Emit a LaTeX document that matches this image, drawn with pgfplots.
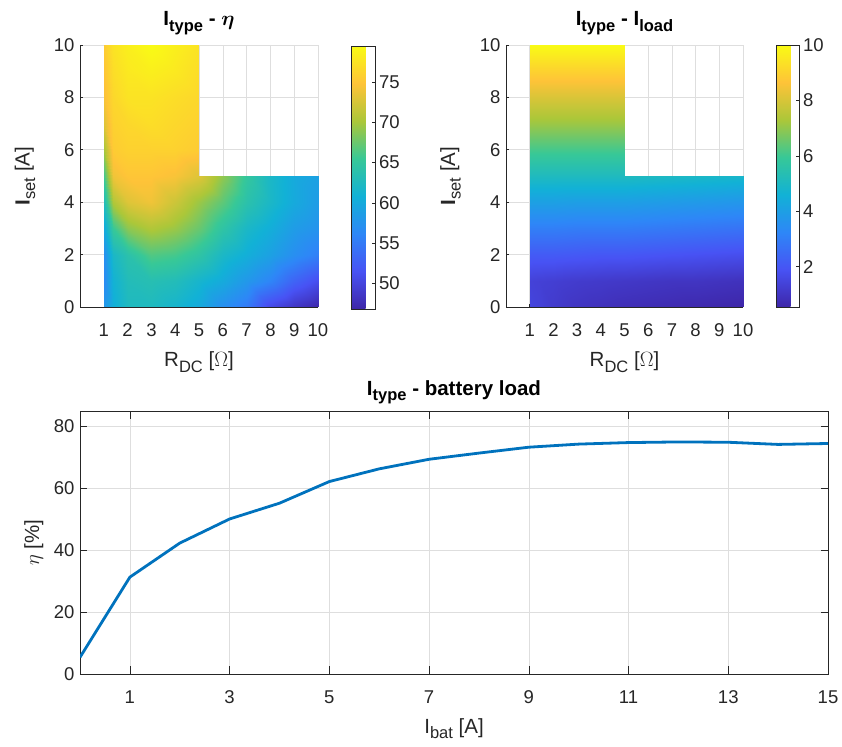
\documentclass[border=0pt]{standalone}
\usepackage{pgfplots}
\pgfplotsset{compat=1.18}
\usepackage{pgfplotstable}
\usepackage{fontspec}
\setmainfont{Liberation Sans}
\usepackage{bm}
\definecolor{mblue}{rgb}{0,0.447,0.741}
\definecolor{axgray}{rgb}{0.15,0.15,0.15}
\newcommand{\lsub}[1]{\raisebox{-5.5bp}{\fontsize{16.5bp}{17bp}\selectfont #1}}
\newcommand{\tickfont}{\fontsize{18.5bp}{20bp}\selectfont}
\newcommand{\labfont}{\fontsize{20.5bp}{24bp}\selectfont}

\pgfplotsset{
  colormap={parula}{rgb=(0.2422,0.1504,0.6603) rgb=(0.2810,0.3228,0.9579)
    rgb=(0.1786,0.5289,0.9682) rgb=(0.0689,0.6948,0.8394) rgb=(0.2161,0.7843,0.5923)
    rgb=(0.6720,0.7793,0.2227) rgb=(0.9970,0.7659,0.2199) rgb=(0.9769,0.9839,0.0805)},
  every axis title shift=0pt,
  mystyle/.style={
    scale only axis, anchor=south west,
    /pgf/number format/assume math mode=true,
    tick label style={font=\tickfont, text=axgray},
    label style={font=\labfont, text=axgray},
    title style={font=\labfont\bfseries, text=black, at={(0.5,1)}, anchor=base},
    grid=major, grid style={black!13, line width=0.6bp},
    axis line style={axgray, line width=0.6bp},
    tick style={axgray, line width=0.6bp},
    tick align=inside,
  },
  mapstyle/.style={
    mystyle, width=238bp, height=262bp,
    xmin=0, xmax=10, ymin=0, ymax=10,
    xtick={1,...,10}, ytick={0,2,...,10},
    axis x line*=bottom, axis y line*=left,
    major tick length=2.6bp,
    xticklabel style={anchor=base, yshift=-30bp},
    yticklabel style={xshift=-2bp},
    title style={yshift=19bp},
    xlabel style={at={(axis description cs:0.5,0)}, anchor=base, yshift=-60bp},
    ylabel style={at={(axis description cs:-0.212,0.5)}, anchor=base},
    colormap name=parula, colorbar,
  },
  cbstyle/.style={
    at={(parent axis.north east)}, anchor=north west, xshift=25bp,
    scale only axis, width=24bp,
    tick align=inside, major tick length=3.5bp,
    ytick pos=right,
    tick style={axgray, line width=0.6bp},
    axis line style={axgray, line width=0.6bp},
    /pgf/number format/assume math mode=true,
    yticklabel style={font=\tickfont, text=axgray},
  },
}

\pgfplotstableread[row sep=\\]{
x y c\\
1 0 58\\ 1.4 0 60.5\\ 2 0 62.5\\ 3 0 62.5\\ 4 0 61.5\\ 5 0 60\\
1 1 56.5\\ 1.4 1 61\\ 2 1 63\\ 3 1 63.5\\ 4 1 63\\ 5 1 61.5\\
1 2 57\\ 1.4 2 62\\ 2 2 64\\ 3 2 66.5\\ 4 2 66\\ 5 2 64.5\\
1 3 60\\ 1.4 3 65.5\\ 2 3 69\\ 3 3 70.5\\ 4 3 69.5\\ 5 3 67.5\\
1 4 63\\ 1.4 4 70.5\\ 2 4 73\\ 3 4 74\\ 4 4 72\\ 5 4 69.5\\
1 5 66\\ 1.4 5 74\\ 2 5 75\\ 3 5 75\\ 4 5 74.5\\ 5 5 73\\
1 6 70\\ 1.4 6 75.5\\ 2 6 76\\ 3 6 76\\ 4 6 76\\ 5 6 75.5\\
1 7 73\\ 1.4 7 76\\ 2 7 76.5\\ 3 7 77\\ 4 7 76.5\\ 5 7 76\\
1 8 74.5\\ 1.4 8 76.5\\ 2 8 77.5\\ 3 8 77.5\\ 4 8 77\\ 5 8 76.5\\
1 9 75\\ 1.4 9 77\\ 2 9 78\\ 3 9 78.5\\ 4 9 78\\ 5 9 77\\
1 10 75.5\\ 1.4 10 77.5\\ 2 10 78.5\\ 3 10 79.5\\ 4 10 78.5\\ 5 10 77.5\\
}\etaA

\pgfplotstableread[row sep=\\]{
x y c\\
5 0 60\\ 6 0 57\\ 7 0 55\\ 8 0 50.5\\ 9 0 48.5\\ 10 0 47\\
5 1 61.5\\ 6 1 60\\ 7 1 58\\ 8 1 56\\ 9 1 53\\ 10 1 51\\
5 2 64.5\\ 6 2 62\\ 7 2 60.5\\ 8 2 59\\ 9 2 57\\ 10 2 55.5\\
5 3 67.5\\ 6 3 64.5\\ 7 3 62\\ 8 3 60.5\\ 9 3 58.5\\ 10 3 57.5\\
5 4 69.5\\ 6 4 67\\ 7 4 64\\ 8 4 62\\ 9 4 60\\ 10 4 58.5\\
5 5 73\\ 6 5 69\\ 7 5 65\\ 8 5 62\\ 9 5 60\\ 10 5 59\\
}\etaB

\pgfplotstableread[row sep=\\]{
x y c\\
1 0 1.5\\ 1.4 0 1.4\\ 2 0 1.2\\ 3 0 1.0\\ 4 0 0.9\\ 5 0 0.8\\
1 1 1.4\\ 1.4 1 1.35\\ 2 1 1.3\\ 3 1 1.2\\ 4 1 1.15\\ 5 1 1.1\\
1 2 2.1\\ 1.4 2 2.1\\ 2 2 2.1\\ 3 2 2.05\\ 4 2 2.0\\ 5 2 2.0\\
1 3 3.05\\ 1.4 3 3.05\\ 2 3 3.05\\ 3 3 3.0\\ 4 3 3.0\\ 5 3 3.0\\
1 4 4.05\\ 1.4 4 4.05\\ 2 4 4.05\\ 3 4 4.0\\ 4 4 4.0\\ 5 4 4.0\\
1 5 5.1\\ 1.4 5 5.1\\ 2 5 5.1\\ 3 5 5.1\\ 4 5 5.1\\ 5 5 5.1\\
1 6 6.1\\ 1.4 6 6.1\\ 2 6 6.1\\ 3 6 6.1\\ 4 6 6.1\\ 5 6 6.1\\
1 7 7.1\\ 1.4 7 7.1\\ 2 7 7.1\\ 3 7 7.1\\ 4 7 7.1\\ 5 7 7.1\\
1 8 8.05\\ 1.4 8 8.05\\ 2 8 8.05\\ 3 8 8.05\\ 4 8 8.05\\ 5 8 8.05\\
1 9 9.0\\ 1.4 9 9.0\\ 2 9 9.0\\ 3 9 9.0\\ 4 9 9.0\\ 5 9 9.0\\
1 10 10\\ 1.4 10 10\\ 2 10 10\\ 3 10 10\\ 4 10 10\\ 5 10 10\\
}\loadA

\pgfplotstableread[row sep=\\]{
x y c\\
5 0 0.8\\ 6 0 0.75\\ 7 0 0.7\\ 8 0 0.65\\ 9 0 0.6\\ 10 0 0.55\\
5 1 1.1\\ 6 1 1.05\\ 7 1 1.0\\ 8 1 1.0\\ 9 1 0.95\\ 10 1 0.9\\
5 2 2.0\\ 6 2 1.95\\ 7 2 1.9\\ 8 2 1.85\\ 9 2 1.8\\ 10 2 1.75\\
5 3 3.0\\ 6 3 2.95\\ 7 3 2.9\\ 8 3 2.85\\ 9 3 2.8\\ 10 3 2.75\\
5 4 4.0\\ 6 4 3.95\\ 7 4 3.9\\ 8 4 3.85\\ 9 4 3.8\\ 10 4 3.75\\
5 5 5.1\\ 6 5 5.05\\ 7 5 5.0\\ 8 5 4.95\\ 9 5 4.9\\ 10 5 4.85\\
}\loadB

\pgfplotstableread[row sep=\\]{
x y\\
0 5.4\\ 1 31.3\\ 2 42.3\\ 3 50.1\\ 4 55.2\\ 5 62.2\\ 6 66.3\\ 7 69.4\\
8 71.4\\ 9 73.3\\ 10 74.3\\ 11 74.8\\ 12 75.0\\ 13 74.9\\ 14 74.2\\ 15 74.5\\
}\battery

\begin{document}
\begin{tikzpicture}
\useasboundingbox (0,0) rectangle (842bp,747bp);

% top left: eta map
\begin{axis}[mapstyle, at={(80bp,440bp)},
  point meta min=46.8, point meta max=79.5,
  colorbar style={cbstyle, height=263bp, yshift=-1bp, ytick={50,55,...,75}},
  title={I\lsub{type} - $\bm{\eta}$},
  xlabel={R\lsub{DC} [$\Omega$]},
  ylabel={\textbf{I}\lsub{set} [A]},
]
\addplot[surf, shader=interp, mesh/cols=6, point meta=explicit] table[x=x, y=y, meta=c] {\etaA};
\addplot[surf, shader=interp, mesh/cols=6, point meta=explicit] table[x=x, y=y, meta=c] {\etaB};
\end{axis}

% top right: load map
\begin{axis}[mapstyle, at={(506bp,440bp)}, width=237bp,
  point meta min=0.55, point meta max=10,
  colorbar style={cbstyle, width=23bp, height=262bp, ytick={2,4,...,10}},
  title={I\lsub{type} - I\lsub{load}},
  xlabel={R\lsub{DC} [$\Omega$]},
  ylabel={\textbf{I}\lsub{set} [A]},
  ylabel style={at={(axis description cs:-0.215,0.5)}},
]
\addplot[surf, shader=interp, mesh/cols=6, point meta=explicit] table[x=x, y=y, meta=c] {\loadA};
\addplot[surf, shader=interp, mesh/cols=6, point meta=explicit] table[x=x, y=y, meta=c] {\loadB};
\end{axis}

% bottom: battery load
\begin{axis}[mystyle, at={(80bp,73bp)}, width=748bp, height=263bp,
  xmin=0, xmax=15, ymin=0, ymax=85,
  xtick={1,3,...,15}, ytick={0,20,...,80},
  major tick length=7.5bp,
  xticklabel style={anchor=base, yshift=-29bp},
  yticklabel style={xshift=-2bp},
  title={I\lsub{type} - battery load}, title style={yshift=16bp},
  xlabel={I\lsub{bat} [A]},
  xlabel style={at={(axis description cs:0.5,0)}, anchor=base, yshift=-59bp},
  ylabel={$\eta$ [\%]},
  ylabel style={at={(axis description cs:-0.0548,0.5)}, anchor=base},
]
\addplot[mblue, line width=2.8bp] table[x=x, y=y] {\battery};
\end{axis}
\end{tikzpicture}
\end{document}
